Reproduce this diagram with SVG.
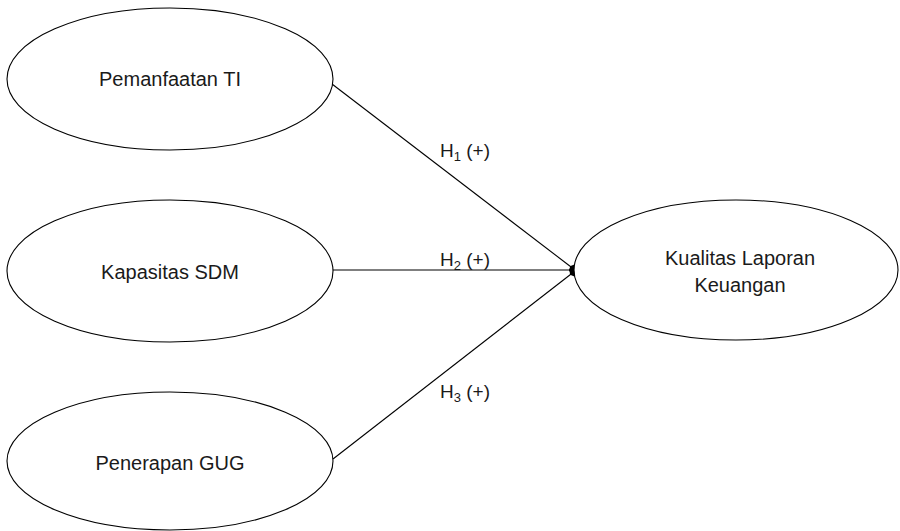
<svg xmlns="http://www.w3.org/2000/svg" width="900" height="531" viewBox="0 0 900 531">
<defs>
<style>
.node ellipse{fill:#fff;stroke:#000;stroke-width:1.1}
.lbl{font-family:"Liberation Sans",Arial,sans-serif;font-size:20px;fill:#1a1a1a;text-anchor:middle}
.h{font-family:"Liberation Sans",Arial,sans-serif;font-size:19px;fill:#1a1a1a}
.sub{font-size:13px}
#edges line{stroke:#000;stroke-width:1.1}
</style>
<marker id="arr" viewBox="0 0 10 10" refX="9" refY="5" markerWidth="7" markerHeight="9" orient="auto" markerUnits="userSpaceOnUse" preserveAspectRatio="none">
<path d="M0,5 L4,0 L10,5 L4,10 Z" fill="#000"/>
</marker>
</defs>
<rect width="900" height="531" fill="#fff"/>
<g id="edges">
<line x1="332" y1="84" x2="575" y2="270" marker-end="url(#arr)"/>
<line x1="333" y1="270" x2="575" y2="270" marker-end="url(#arr)"/>
<line x1="333" y1="459" x2="575" y2="271" marker-end="url(#arr)"/>
<text class="h" x="440" y="157">H<tspan class="sub" dy="4">1</tspan><tspan dy="-4"> (+)</tspan></text>
<text class="h" x="440" y="266">H<tspan class="sub" dy="4">2</tspan><tspan dy="-4"> (+)</tspan></text>
<text class="h" x="440" y="398">H<tspan class="sub" dy="4">3</tspan><tspan dy="-4"> (+)</tspan></text>
</g>
<g id="n1" class="node"><ellipse cx="170" cy="79" rx="163" ry="71"/><text class="lbl" x="170" y="86">Pemanfaatan TI</text></g>
<g id="n2" class="node"><ellipse cx="170" cy="271" rx="163" ry="71"/><text class="lbl" x="170" y="279">Kapasitas SDM</text></g>
<g id="n3" class="node"><ellipse cx="170" cy="461" rx="163" ry="69"/><text class="lbl" x="170" y="470">Penerapan GUG</text></g>
<g id="n4" class="node"><ellipse cx="736" cy="270" rx="162" ry="70"/><text class="lbl" x="740" y="265">Kualitas Laporan</text><text class="lbl" x="740" y="292">Keuangan</text></g>
</svg>
